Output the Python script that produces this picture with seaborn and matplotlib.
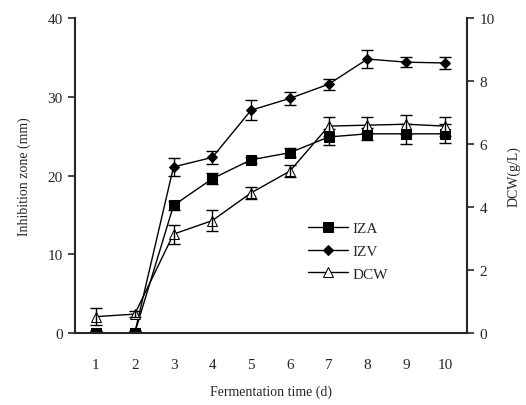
import numpy as np
import pandas as pd
import seaborn as sns
import matplotlib.pyplot as plt

days = [1, 2, 3, 4, 5, 6, 7, 8, 9, 10]
iza = [0, 0, 16.2, 19.6, 22.0, 22.9, 24.9, 25.3, 25.3, 25.3]
iza_err = [0.2, 0.2, 0.6, 0.7, 0.4, 0.6, 1.0, 0.8, 1.3, 1.2]
izv = [0, 0, 21.1, 22.3, 28.3, 29.8, 31.6, 34.8, 34.4, 34.3]
izv_err = [0.2, 0.2, 1.1, 0.8, 1.3, 0.8, 0.7, 1.2, 0.6, 0.8]
dcw = [0.52, 0.6, 3.14, 3.57, 4.45, 5.14, 6.57, 6.6, 6.63, 6.57]
dcw_err = [0.27, 0.1, 0.3, 0.33, 0.2, 0.2, 0.3, 0.25, 0.3, 0.3]

df = pd.DataFrame({'day': days, 'IZA': iza, 'IZV': izv, 'DCW': dcw})

sns.set_style("ticks")
plt.rcParams['font.family'] = ['Liberation Serif', 'DejaVu Serif']

fig = plt.figure(figsize=(5.26, 4.06), dpi=100)
ax = fig.add_axes([0.1426, 0.1773, 0.7454, 0.7757])
ax2 = ax.twinx()

lw = 1.0
sns.lineplot(data=df, x='day', y='IZA', ax=ax, color='black', lw=lw,
             marker='s', markersize=7, markeredgecolor='black', label='IZA', legend=False)
sns.lineplot(data=df, x='day', y='IZV', ax=ax, color='black', lw=lw,
             marker='D', markersize=5, markeredgecolor='black', label='IZV', legend=False)
sns.lineplot(data=df, x='day', y='DCW', ax=ax2, color='black', lw=lw,
             marker='^', markersize=7, markerfacecolor='white', markeredgecolor='black',
             label='DCW', legend=False)
ax.errorbar(days, iza, yerr=iza_err, fmt='none', ecolor='black', elinewidth=1, capsize=4)
ax.errorbar(days, izv, yerr=izv_err, fmt='none', ecolor='black', elinewidth=1, capsize=4)
ax2.errorbar(days, dcw, yerr=dcw_err, fmt='none', ecolor='black', elinewidth=1, capsize=4)

ax.set_xlim(0.46, 10.57)
ax.set_ylim(0, 40)
ax2.set_ylim(0, 10)
ax.set_xticks(days)
ax.set_yticks([0, 10, 20, 30, 40])
ax2.set_yticks([0, 2, 4, 6, 8, 10])

for a in (ax, ax2):
    a.spines['top'].set_visible(False)
    a.spines['left'].set_linewidth(1.5)
    a.spines['right'].set_linewidth(1.5)
    a.spines['bottom'].set_linewidth(1.5)
ax.spines['right'].set_visible(False)
ax2.spines['left'].set_visible(False)
ax2.spines['bottom'].set_visible(False)

ax.tick_params(axis='x', length=0, pad=18, labelsize=11)
ax.tick_params(axis='y', length=5, width=1.2, direction='out', labelsize=11, pad=4)
ax2.tick_params(axis='y', length=5, width=1.2, direction='out', labelsize=11, pad=4)

ax.set_xlabel('Fermentation time (d)', fontsize=10, labelpad=10)
ax.set_ylabel('Inhibition zone (mm)', fontsize=10, labelpad=12)
ax2.set_ylabel('DCW(g/L)', fontsize=10, labelpad=9, rotation=90)

h1, l1 = ax.get_legend_handles_labels()
h2, l2 = ax2.get_legend_handles_labels()
ax.legend(h1 + h2, l1 + l2, loc='center left', bbox_to_anchor=(0.56, 0.26),
          frameon=False, fontsize=11, handlelength=2.6, labelspacing=0.6,
          handletextpad=0.3)

fig.savefig('out.png', dpi=100)
